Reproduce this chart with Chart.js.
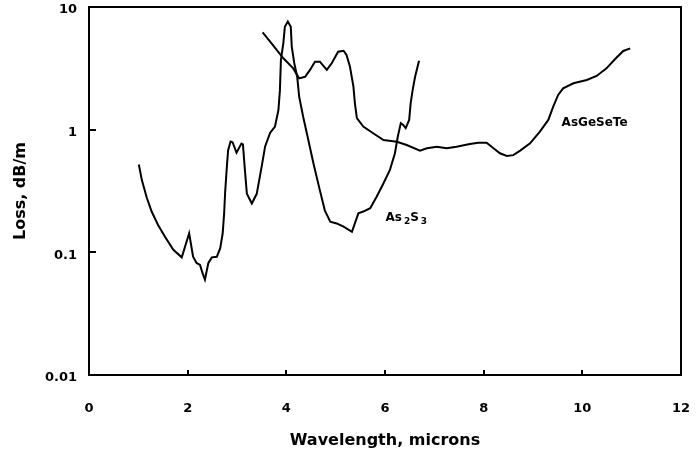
<!DOCTYPE html>
<html>
<head>
<meta charset="utf-8">
<script src="https://cdn.jsdelivr.net/npm/chart.js@4.4.0/dist/chart.umd.min.js"></script>
<style>
  html, body { margin: 0; padding: 0; background: #fff; }
</style>
</head>
<body>
<canvas id="chart" width="698" height="452"></canvas>
<script>
// values
let as2s3Wavelength = [1.01, 1.07, 1.17, 1.27, 1.40, 1.54, 1.71, 1.88, 2.03, 2.11, 2.18, 2.25, 2.30, 2.35, 2.42, 2.49,
  2.59, 2.66, 2.71, 2.74, 2.76, 2.79, 2.82, 2.87, 2.91, 2.99, 3.09, 3.12, 3.16, 3.20, 3.30, 3.40, 3.50, 3.57, 3.67,
  3.77, 3.84, 3.87, 3.89, 3.94, 3.97, 4.03, 4.09, 4.11, 4.16, 4.22, 4.26, 4.34, 4.43, 4.55, 4.68, 4.78, 4.89, 5.02,
  5.16, 5.33, 5.46, 5.56, 5.70, 5.83, 5.97, 6.10, 6.20, 6.26, 6.32, 6.37, 6.42, 6.49, 6.52, 6.56, 6.61, 6.66, 6.69];
let as2s3Loss = [0.52, 0.39, 0.28, 0.215, 0.167, 0.134, 0.105, 0.091, 0.143, 0.092, 0.082, 0.079, 0.068, 0.060, 0.082, 0.091,
  0.092, 0.108, 0.143, 0.21, 0.31, 0.47, 0.68, 0.80, 0.79, 0.65, 0.77, 0.76, 0.47, 0.30, 0.25, 0.30, 0.50, 0.73, 0.94,
  1.06, 1.45, 2.1, 3.7, 5.1, 6.9, 7.6, 6.9, 4.75, 3.5, 2.7, 1.86, 1.28, 0.88, 0.53, 0.32, 0.22, 0.178, 0.172,
  0.162, 0.147, 0.208, 0.215, 0.229, 0.284, 0.366, 0.47, 0.64, 0.88, 1.13, 1.09, 1.03, 1.2, 1.64, 2.1, 2.7, 3.26, 3.65];

let asgeseteWavelength = [3.52, 3.70, 3.94, 4.14, 4.26, 4.38, 4.48, 4.58, 4.68, 4.82, 4.92, 5.05, 5.16, 5.22, 5.29, 5.36,
  5.39, 5.43, 5.56, 5.76, 5.97, 6.24, 6.44, 6.71, 6.85, 7.05, 7.25, 7.45, 7.72, 7.89, 8.06, 8.20, 8.33, 8.47, 8.60,
  8.74, 8.94, 9.14, 9.31, 9.41, 9.51, 9.61, 9.82, 10.09, 10.29, 10.49, 10.66, 10.83, 10.97];
let asgeseteLoss = [6.2, 5.06, 3.82, 3.16, 2.62, 2.70, 3.07, 3.58, 3.58, 3.07, 3.48, 4.32, 4.40, 4.06, 3.26, 2.24,
  1.64, 1.24, 1.06, 0.935, 0.824, 0.798, 0.75, 0.675, 0.705, 0.727, 0.705, 0.727, 0.764, 0.783, 0.783, 0.705, 0.642, 0.611, 0.62,
  0.675, 0.774, 0.964, 1.20, 1.54, 1.92, 2.17, 2.39, 2.54, 2.74, 3.16, 3.75, 4.38, 4.60];

let xTicks = [0, 2, 4, 6, 8, 10, 12];
let yTicks = [0.01, 0.1, 1, 10];

// curve labels: text pieces (sub = subscript) and where they sit in data units
let curveLabels = [
  { parts: [{ t: "As" }, { t: "2", sub: true }, { t: "S" }, { t: "3", sub: true }], x: 6.01, y: 0.19 },
  { parts: [{ t: "AsGeSeTe" }], x: 9.58, y: 1.13 }
];

function toPoints(xs, ys) {
  return xs.map((x, i) => ({ x: x, y: ys[i] }));
}

let font = "'DejaVu Sans', sans-serif";
Chart.defaults.font.family = font;
Chart.defaults.color = "#000";

let frame = {
  id: "frame",
  afterDraw(chart) {
    let ctx = chart.ctx, a = chart.chartArea;
    let xs = chart.scales.x, ys = chart.scales.y;
    ctx.save();
    ctx.strokeStyle = "#000";
    ctx.lineWidth = 2;
    ctx.strokeRect(a.left, a.top, a.right - a.left, a.bottom - a.top);
    ctx.beginPath();
    xTicks.forEach(v => {
      if (v > xs.min && v < xs.max) {
        let px = Math.round(xs.getPixelForValue(v));
        ctx.moveTo(px, a.bottom);
        ctx.lineTo(px, a.bottom - 5);
      }
    });
    yTicks.forEach(v => {
      if (v > ys.min && v < ys.max) {
        let py = Math.round(ys.getPixelForValue(v));
        ctx.moveTo(a.left, py);
        ctx.lineTo(a.left + 7, py);
      }
    });
    ctx.stroke();

    ctx.fillStyle = "#000";
    ctx.textBaseline = "middle";
    ctx.textAlign = "left";
    curveLabels.forEach(lab => {
      let px = xs.getPixelForValue(lab.x);
      let py = ys.getPixelForValue(lab.y);
      lab.parts.forEach(p => {
        ctx.font = "bold " + (p.sub ? 9 : 12) + "px " + font;
        let dy = p.sub ? 4 : 0;
        if (p.sub) px += 2;
        ctx.fillText(p.t, px, py + dy);
        px += ctx.measureText(p.t).width;
      });
    });
    ctx.restore();
  }
};

let ctx = document.getElementById("chart").getContext("2d");

let chart = new Chart(ctx, {
  type: "line",
  data: {
    datasets: [
      {
        label: "As2S3",
        data: toPoints(as2s3Wavelength, as2s3Loss),
        borderColor: "#000",
        borderWidth: 2,
        pointRadius: 0,
        tension: 0,
      },
      {
        label: "AsGeSeTe",
        data: toPoints(asgeseteWavelength, asgeseteLoss),
        borderColor: "#000",
        borderWidth: 2,
        pointRadius: 0,
        tension: 0,
      }
    ]
  },
  options: {
    responsive: false,
    animation: false,
    devicePixelRatio: 1,
    layout: { padding: { top: 7, right: 17, bottom: 0, left: 0 } },
    plugins: {
      legend: { display: false },
      tooltip: { enabled: false }
    },
    scales: {
      x: {
        type: "linear",
        min: 0,
        max: 12,
        grid: { display: false, drawTicks: false },
        border: { display: false },
        ticks: { stepSize: 2, padding: 26, font: { size: 13, weight: "bold" } },
        title: {
          display: true,
          text: "Wavelength, microns",
          font: { size: 16, weight: "bold" },
          padding: { top: 0, bottom: 2 }
        },
        afterBuildTicks: s => { s.ticks = xTicks.map(v => ({ value: v })); },
        afterFit: s => { s.height = 77; s.paddingLeft = 0; s.paddingRight = 0; }
      },
      y: {
        type: "logarithmic",
        min: 0.01,
        max: 10,
        grid: { display: false, drawTicks: false },
        border: { display: false },
        ticks: {
          padding: 12,
          labelOffset: 3,
          font: { size: 13, weight: "bold" },
          callback: v => String(v)
        },
        title: {
          display: true,
          text: "Loss, dB/m",
          font: { size: 16, weight: "bold" },
          padding: { top: 11, bottom: 0 }
        },
        afterBuildTicks: s => { s.ticks = yTicks.map(v => ({ value: v })); },
        afterFit: s => { s.width = 89; s.paddingTop = 0; s.paddingBottom = 0; }
      }
    }
  },
  plugins: [frame]
});
</script>
</body>
</html>
